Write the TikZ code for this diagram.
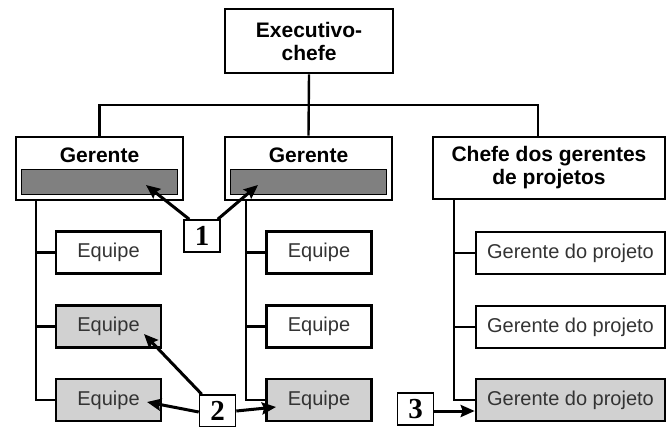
\documentclass[tikz,border=0pt]{standalone}
\usepackage{fontspec}
\setmainfont{Liberation Sans}
\newfontfamily\numfont{Liberation Serif}
\usetikzlibrary{arrows.meta}

\tikzset{
  box/.style={draw, line width=2.6pt, inner sep=0pt, align=center},
  headbox/.style={box, font=\fontsize{21}{23}\selectfont\bfseries},
  teambox/.style={box, minimum width=105pt, minimum height=42pt,
    font=\fontsize{20}{22}\selectfont, text=black!80},
  projbox/.style={teambox, minimum width=189pt},
  shaded/.style={fill=black!18},
  bar/.style={draw, line width=0.6pt, fill=black!50, minimum width=156pt,
    minimum height=25pt, inner sep=0pt},
  link/.style={line width=2.4pt},
  numbox/.style={draw, line width=1.6pt, fill=white, minimum width=36pt,
    minimum height=32pt, inner sep=0pt, font=\numfont\bfseries\fontsize{29}{29}\selectfont},
  pointer/.style={line width=3pt, -{Stealth[length=14pt, width=12pt, inset=2pt]}}
}

\begin{document}
\begin{tikzpicture}[x=1pt, y=-1pt]
      \useasboundingbox (0,0) rectangle (669,426);

      % top level
      \node[headbox, minimum width=168pt, minimum height=64pt] (exec) at (309,41) {Executivo-\\chefe};

      \node[box, minimum width=167pt, minimum height=63pt] (ger1) at (99.5,168.5) {};
      \node[box, minimum width=167pt, minimum height=63pt] (ger2) at (308.5,168.5) {};
      \node[headbox, minimum width=232pt, minimum height=62pt] (chefe) at (549,168) {Chefe dos gerentes\\de projetos};

      \node[anchor=base, font=\fontsize{21}{23}\selectfont\bfseries] (ger1txt) at (99.5,162) {Gerente};
      \node[anchor=base, font=\fontsize{21}{23}\selectfont\bfseries] (ger2txt) at (308.5,162) {Gerente};
      \node[bar] (bar1) at (99,181.5) {};
      \node[bar] (bar2) at (308,181.5) {};

      % teams and projects
      \node[teambox] (eqA1) at (108.5,252.5) {Equipe};
      \node[teambox, shaded] (eqA2) at (108.5,326.5) {Equipe};
      \node[teambox, shaded] (eqA3) at (108.5,400) {Equipe};

      \node[teambox] (eqB1) at (319,252.5) {Equipe};
      \node[teambox] (eqB2) at (319,326.5) {Equipe};
      \node[teambox, shaded] (eqB3) at (319,400) {Equipe};

      \node[projbox] (gp1) at (570.5,253) {Gerente do projeto};
      \node[projbox] (gp2) at (570.5,327) {Gerente do projeto};
      \node[projbox, shaded] (gp3) at (570.5,400) {Gerente do projeto};

      % connectors
      \coordinate (bus) at (309,105);
      \coordinate (chefeIn) at (538,137);
      \coordinate (trunkA) at (36,200);
      \coordinate (trunkB) at (246,200);
      \coordinate (trunkC) at (454,199);

      \draw[link] (exec.south) -- (ger2.north);
      \draw[link] (ger1.north) |- (bus) -| (chefeIn);

      \draw[link] (trunkA) |- (eqA3.west);
      \draw[link] (eqA1.west -| trunkA) -- (eqA1.west);
      \draw[link] (eqA2.west -| trunkA) -- (eqA2.west);

      \draw[link] (trunkB) |- (eqB3.west);
      \draw[link] (eqB1.west -| trunkB) -- (eqB1.west);
      \draw[link] (eqB2.west -| trunkB) -- (eqB2.west);

      \draw[link] (trunkC) |- (gp3.west);
      \draw[link] (gp1.west -| trunkC) -- (gp1.west);
      \draw[link] (gp2.west -| trunkC) -- (gp2.west);

      % callouts
      \node[numbox] (n1) at (202,236) {1};
      \node[numbox] (n2) at (217.5,411) {2};
      \node[numbox] (n3) at (415.5,409) {3};

      \coordinate (tip1a) at (146,185);
      \coordinate (tip1b) at (258,185);
      \coordinate (tip2a) at (144,334);
      \coordinate (tip2b) at (147,402);
      \coordinate (tip2c) at (276,407);

      \draw[pointer] ([xshift=6pt]n1.north west) -- (tip1a);
      \draw[pointer] ([xshift=-3pt]n1.north east) -- (tip1b);
      \draw[pointer] ([xshift=3pt]n2.north west) -- (tip2a);
      \draw[pointer] ([yshift=-1pt]n2.west) -- (tip2b);
      \draw[pointer] (n2.east) -- (tip2c);
      \draw[pointer] ([yshift=-2pt]n3.east) -- (gp3.west |- 0,411);
\end{tikzpicture}
\end{document}
